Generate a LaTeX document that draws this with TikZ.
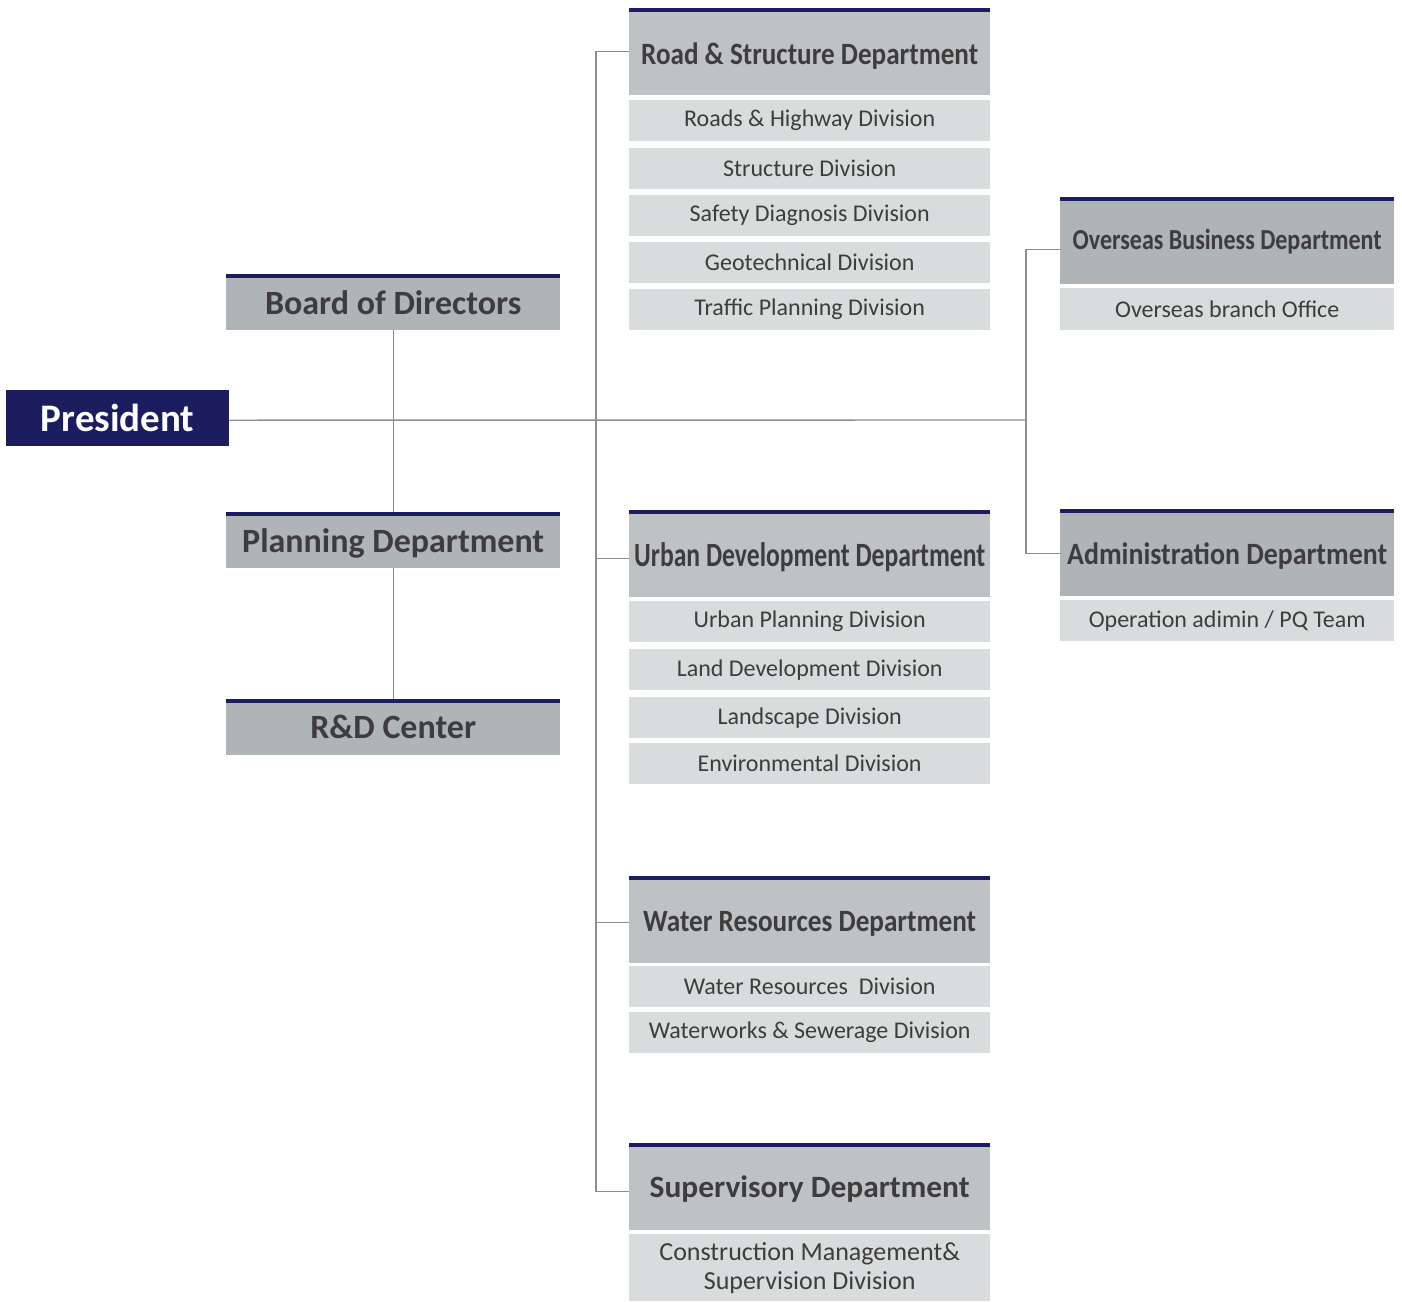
\documentclass[tikz,border=0pt]{standalone}
\usepackage{graphicx}
\usepackage{fontspec}
\setmainfont{Carlito}
\definecolor{navy}{HTML}{1B1D5E}
\definecolor{deptgray}{HTML}{AFB4B7}
\definecolor{deptgrayb}{HTML}{BEC2C4}
\definecolor{divgray}{HTML}{D9DCDD}
\definecolor{txt}{HTML}{3E3C3C}
\definecolor{linec}{HTML}{8E8E8E}
\newcommand{\fitw}[2]{\resizebox{#1}{\height}{#2}}
\begin{document}
\begin{tikzpicture}[x=1pt,y=-1pt,
  topbar/.style={path picture={\fill[navy] (path picture bounding box.north west) rectangle ([yshift=-4pt]path picture bounding box.north east);}},
  leftbox/.style={rectangle, anchor=north west, fill=deptgray, topbar, minimum width=334pt, minimum height=56pt, inner sep=0pt, text=txt, font=\bfseries\fontsize{34}{38}\selectfont, text depth=0pt},
  dept/.style={rectangle, anchor=north west, fill=deptgrayb, topbar, minimum height=87pt, inner sep=0pt, text=txt, font=\bfseries\fontsize{31}{36}\selectfont, text depth=0pt},
  rdept/.style={dept, fill=deptgray},
  divbox/.style={rectangle, anchor=north west, fill=divgray, minimum height=41pt, inner sep=0pt, text=txt, font=\fontsize{24}{29}\selectfont},
  conn/.style={draw=linec, line width=1.4pt}
]
\useasboundingbox (0,0) rectangle (1402,1301);
\fill[white] (0,0) rectangle (1402,1301);

% left column
\node[rectangle, anchor=north west, fill=navy, minimum width=223pt, minimum height=56pt, inner sep=0pt, text=white, font=\bfseries\fontsize{39}{44}\selectfont, text depth=0pt] (pres) at (6,390) {President};
\node[leftbox] (board) at (226,274) {Board of Directors};
\node[leftbox] (plan) at (226,512) {Planning Department};
\node[leftbox] (rnd) at (226,699) {R\&D Center};

% middle column
\begin{scope}[every node/.append style={minimum width=361pt}]
\node[dept, text height=25pt] (road) at (629,8) {\fitw{337pt}{Road \& Structure Department}};
\node[divbox] (d1) at (629,100) {Roads \& Highway Division};
\node[divbox] (d2) at (629,148) {Structure Division};
\node[divbox] (d3) at (629,195) {Safety Diagnosis Division};
\node[divbox] (d4) at (629,242) {Geotechnical Division};
\node[divbox] (d5) at (629,289) {Traffic Planning Division};

\node[dept, font=\bfseries\fontsize{34}{38}\selectfont, text height=25pt] (urban) at (629,510) {\fitw{351pt}{Urban Development Department}};
\node[divbox] (u1) at (629,601) {Urban Planning Division};
\node[divbox] (u2) at (629,649) {Land Development Division};
\node[divbox] (u3) at (629,697) {Landscape Division};
\node[divbox] (u4) at (629,743) {Environmental Division};

\node[dept, text height=24pt] (water) at (629,876) {\fitw{333pt}{Water Resources Department}};
\node[divbox] (w1) at (629,966) {Water Resources\ \ Division};
\node[divbox] (w2) at (629,1012) {Waterworks \& Sewerage Division};

\node[dept, text height=21pt] (sup) at (629,1143) {\fitw{320pt}{Supervisory Department}};
\node[divbox, minimum height=67pt, align=center, font=\fontsize{26}{29}\selectfont] (s1) at (629,1234) {Construction Management\&\\Supervision Division};
\end{scope}

% right column
\begin{scope}[every node/.append style={minimum width=334pt}]
\node[rdept, font=\bfseries\fontsize{29}{34}\selectfont, text height=17pt] (over) at (1060,197) {\fitw{309pt}{Overseas Business Department}};
\node[divbox, minimum height=42pt] (o1) at (1060,288) {Overseas branch Office};
\node[rdept, text height=23pt] (admin) at (1060,509) {\fitw{320pt}{Administration Department}};
\node[divbox, minimum height=41pt] (a1) at (1060,600) {Operation adimin / PQ Team};
\end{scope}

% connectors
\coordinate (rj) at (1026,420);
\draw[conn] ([yshift=-2pt]pres.east) -- (rj);
\draw[conn] (board.south) -- (plan.north);
\draw[conn] (plan.south) -- (rnd.north);
\draw[conn] (road.west) -- ++(-33,0) |- ([yshift=-5pt]sup.west);
\draw[conn] ([yshift=-5pt]urban.west) -- ++(-33,0);
\draw[conn] ([yshift=-3pt]water.west) -- ++(-33,0);
\draw[conn] ([yshift=-9pt]over.west) -- ++(-34,0) |- ([yshift=-1pt]admin.west);
\end{tikzpicture}
\end{document}
